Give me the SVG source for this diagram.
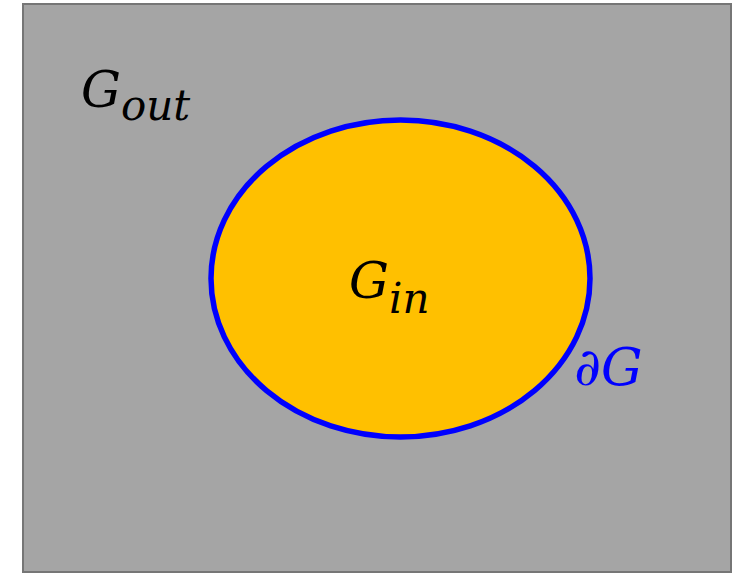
<svg xmlns="http://www.w3.org/2000/svg" width="742" height="574" viewBox="0 0 742 574">
<style>
.m{font-family:"DejaVu Serif","Liberation Serif",serif;font-style:italic}
</style>
<rect x="0" y="0" width="742" height="574" fill="#ffffff"/>
<g id="outer">
<rect x="23" y="4" width="708" height="568" fill="#A5A5A5" stroke="#767676" stroke-width="2"/>
<text class="m" x="81" y="107" font-size="50" fill="#000">G<tspan font-size="42" dy="13">out</tspan></text>
</g>
<g id="inner">
<ellipse cx="400.5" cy="278.5" rx="189.5" ry="158.5" fill="#FFC000" stroke="#0000FF" stroke-width="5.5"/>
<text class="m" x="349" y="298" font-size="50" fill="#000">G<tspan font-size="42" dy="15">in</tspan></text>
</g>
<g id="boundary">
<text class="m" x="574" y="385" font-size="52" fill="#0000FF">∂G</text>
</g>
</svg>
